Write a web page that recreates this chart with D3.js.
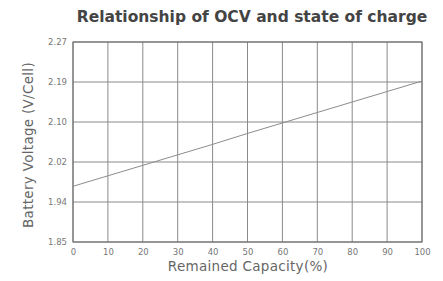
<!DOCTYPE html>
<html>
<head>
<meta charset="utf-8">
<script src="https://cdn.jsdelivr.net/npm/d3@7"></script>
<style>
  body { margin: 0; background: #fff; }
  text { font-family: "DejaVu Sans", Verdana, sans-serif; }
</style>
</head>
<body>
<svg id="chart" width="443" height="281"></svg>
<script>

  var capacity = [0, 10, 20, 30, 40, 50, 60, 70, 80, 90, 100];
  var voltage = [1.967, 1.989, 2.011, 2.033, 2.055, 2.078, 2.100, 2.122, 2.144, 2.166, 2.188];
  var yTickLabels = ['1.85', '1.94', '2.02', '2.10', '2.19', '2.27'];

  var svg = d3.select('#chart');
  var plotLeft = 73, plotRight = 422, plotTop = 42, plotBottom = 242;

  var x = d3.scaleLinear().domain([0, 100]).range([plotLeft, plotRight]);
  var y = d3.scaleLinear().domain([1.85, 2.27]).range([plotBottom, plotTop]);

  // y ticks are spaced evenly, labels are the printed ones
  var yTicks = yTickLabels.map(function (d, i) {
    return 1.85 + i * (2.27 - 1.85) / (yTickLabels.length - 1);
  });

  svg.append('text')
    .attr('x', 252)
    .attr('y', 22)
    .attr('text-anchor', 'middle')
    .attr('font-size', 15.5)
    .attr('font-weight', 'bold')
    .attr('fill', '#444')
    .text('Relationship of OCV and state of charge');

  // grid
  svg.append('g')
    .selectAll('line')
    .data(capacity)
    .enter()
    .append('line')
      .attr('x1', function (d) { return x(d); })
      .attr('x2', function (d) { return x(d); })
      .attr('y1', plotTop)
      .attr('y2', plotBottom)
      .attr('stroke', '#8a8a8a')
      .attr('stroke-width', 1);

  svg.append('g')
    .selectAll('line')
    .data(yTicks)
    .enter()
    .append('line')
      .attr('x1', plotLeft)
      .attr('x2', plotRight)
      .attr('y1', function (d) { return y(d); })
      .attr('y2', function (d) { return y(d); })
      .attr('stroke', '#8a8a8a')
      .attr('stroke-width', 1);

  svg.append('rect')
    .attr('x', plotLeft)
    .attr('y', plotTop)
    .attr('width', plotRight - plotLeft)
    .attr('height', plotBottom - plotTop)
    .attr('fill', 'none')
    .attr('stroke', '#666');

  var line = d3.line()
    .x(function (d, i) { return x(capacity[i]); })
    .y(function (d) { return y(d); });

  svg.append('path')
    .datum(voltage)
    .attr('d', line)
    .attr('fill', 'none')
    .attr('stroke', '#8c8c8c')
    .attr('stroke-width', 1);

  // axes (labels only)
  var xAxis = svg.append('g')
    .attr('transform', 'translate(0,' + plotBottom + ')')
    .call(d3.axisBottom(x).tickValues(capacity).tickSize(0).tickPadding(7));

  var yAxis = svg.append('g')
    .attr('transform', 'translate(' + plotLeft + ',0)')
    .call(d3.axisLeft(y).tickValues(yTicks).tickSize(0).tickPadding(6)
      .tickFormat(function (d, i) { return yTickLabels[i]; }));

  [xAxis, yAxis].forEach(function (g) {
    g.select('.domain').remove();
    g.selectAll('text').attr('font-size', 8.5).attr('fill', '#777')
      .style('font-family', '"DejaVu Sans", sans-serif');
  });

  svg.append('text')
    .attr('x', 248)
    .attr('y', 271)
    .attr('text-anchor', 'middle')
    .attr('font-size', 13.5)
    .attr('letter-spacing', 0.3)
    .attr('fill', '#666')
    .text('Remained Capacity(%)');

  svg.append('text')
    .attr('transform', 'translate(33,145) rotate(-90)')
    .attr('text-anchor', 'middle')
    .attr('font-size', 13.5)
    .attr('letter-spacing', 0.3)
    .attr('fill', '#666')
    .text('Battery Voltage (V/Cell)');

</script>
</body>
</html>
